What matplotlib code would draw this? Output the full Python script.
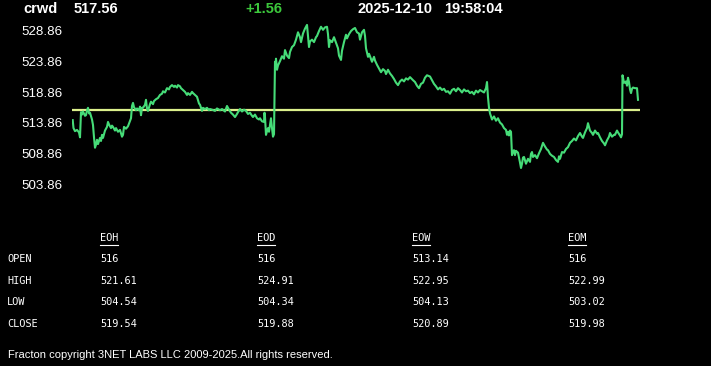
import matplotlib
matplotlib.use("Agg")
import matplotlib.pyplot as plt
from matplotlib.lines import Line2D

# header info
symbol = "crwd"
last_price = "517.56"
change = "+1.56"
date_str = "2025-12-10"
time_str = "19:58:04"
open_level = 516.0

# y axis ticks
yticks = [503.86, 508.86, 513.86, 518.86, 523.86, 528.86]

# intraday trace (t = minutes-ish position, price)
t = [0.7, 1.5, 3, 5, 7, 8, 9, 10, 11, 13, 14, 15, 16, 17, 18, 20, 21, 22, 23, 24, 25, 26, 28,
     29, 30, 31, 33, 35, 36, 37, 39, 40, 41, 43, 44, 46, 48, 50, 51, 52, 54, 56, 58, 59, 60, 61,
     62, 64, 65, 67, 68, 69, 70, 71, 73, 74, 75, 76, 78, 79, 81, 82, 84, 86, 88, 90, 91, 93, 95,
     97, 98, 100, 102, 103, 105, 106, 108, 109, 111, 113, 115, 116, 118, 120, 121, 123, 125, 127,
     128, 130, 131, 133, 135, 137, 138, 140, 143,
     145, 148, 150, 153, 155, 157, 159, 161, 163, 165, 166, 168, 170, 172, 174, 176, 178, 180, 181,
     183, 185, 187, 188, 190, 192, 192.5, 193, 194, 195, 196, 197, 198, 199, 200, 201, 202, 203,
     203.5, 204, 205, 206, 208, 210, 212, 213, 215, 217, 218,
     220, 222, 224, 226, 228, 229, 231, 233, 235, 236, 237, 238, 240, 242, 244, 245, 247, 249, 251,
     253, 255, 256, 257, 258, 260, 262, 264, 266, 267, 269, 270, 272, 274, 275, 277, 279, 281, 283,
     285, 287, 288, 290, 292, 293, 294, 296, 297, 298,
     300, 302, 303, 305, 307, 309, 311, 313, 314, 316, 318, 320, 322, 324, 326, 328, 330, 332, 334,
     336, 338, 341, 343, 345, 347, 349, 351, 353, 355, 358, 360, 362, 364, 366, 368, 370, 372, 374,
     376, 378, 380, 382, 384, 386, 388, 390, 392, 394, 396, 398, 400, 402, 404, 406, 408, 410, 412,
     414, 415, 416, 417, 418, 420, 422, 424, 426, 428, 430, 432, 434, 435, 436, 437, 438,
     439, 440, 441, 442, 443, 444, 446, 447, 448, 449, 450, 451, 452, 454, 456, 458, 459, 460, 461,
     463, 465, 467, 469, 471, 473, 475, 476, 478, 480, 482, 484, 486, 487, 488, 490, 492, 494, 496,
     498, 500, 502, 504, 506, 508, 510, 511, 513, 515, 516, 518, 520, 521, 523, 525, 526, 528, 530,
     532, 533, 535, 537, 538, 540, 542, 543, 545, 546, 548, 549, 550, 550.5, 551, 552, 553, 554, 555,
     556, 557, 558, 559, 560, 561, 563, 565, 566]
price = [514.3, 513.0, 512.5, 512.7, 512.3, 511.5, 515.6, 515.2, 515.7, 515.0, 515.1, 515.9, 516.3,
         515.4, 515.5, 514.4, 513.5, 511.5, 509.8, 510.3, 511.1, 510.4, 511.4, 510.9, 511.9, 511.4,
         512.6, 513.2, 514.0, 513.6, 513.0, 513.4, 513.2, 512.6, 513.0, 512.4, 512.7, 511.6, 511.9,
         513.2, 512.9, 513.3, 514.2, 514.6, 516.6, 517.1, 516.4, 515.9, 516.2, 515.9, 516.5, 515.1,
         516.3, 516.3, 516.8, 517.6, 516.1, 515.8, 516.9, 517.3, 516.9, 517.4, 517.7, 517.9, 518.4,
         518.6, 519.0, 518.8, 519.5, 519.3, 519.7, 520.0, 519.7, 519.9, 519.6, 520.0, 519.8, 519.5,
         519.2, 518.9, 518.4, 518.7, 518.4, 518.9, 518.7, 518.4, 518.1, 517.0, 516.8, 515.8, 516.3,
         516.1, 516.3, 515.9, 516.1, 516.0, 515.8,
         516.2, 515.9, 516.1, 515.7, 516.6, 516.0, 515.5, 515.2, 514.8, 515.3, 515.6, 516.1, 515.7,
         516.0, 515.8, 515.3, 515.5, 515.0, 514.8, 515.2, 514.6, 514.4, 514.6, 514.1, 514.0, 515.5,
         514.8, 511.9, 512.5, 513.0, 512.4, 513.5, 514.6, 513.0, 511.6, 512.0, 523.8, 523.1, 524.3,
         522.5, 523.2, 523.9, 524.7, 524.3, 525.7, 524.8, 524.4,
         525.4, 526.2, 526.5, 527.4, 528.6, 527.8, 527.0, 528.4, 529.2, 529.8, 528.0, 526.2, 527.1,
         527.4, 527.0, 527.8, 528.0, 528.8, 529.5, 529.0, 529.4, 529.5, 528.3, 526.2, 527.3, 527.0,
         527.8, 526.9, 526.0, 524.8, 524.1, 525.6, 527.0, 528.2, 527.6, 528.3, 528.8, 529.1, 529.3,
         528.6, 528.4, 527.4, 528.6, 529.0, 528.0, 526.0, 524.6, 525.1,
         524.7, 523.8, 524.6, 524.0, 523.3, 522.7, 522.1, 522.6, 522.3, 521.8, 522.5, 521.9, 521.5,
         521.0, 520.4, 520.0, 520.6, 520.9, 520.6, 521.1, 520.9, 521.3, 520.8, 520.5, 519.9, 519.5,
         520.2, 520.4, 521.2, 521.6, 521.4, 520.8, 520.2, 519.8, 519.3, 519.6, 519.2, 519.4, 518.9,
         519.0, 518.6, 519.2, 519.4, 519.0, 519.5, 519.2, 518.8, 519.3, 519.0, 519.1, 518.7, 518.9,
         518.5, 519.1, 518.8, 519.2, 519.0, 518.8, 519.5, 520.5, 518.0, 516.3, 515.4, 514.4, 514.9,
         514.2, 514.6, 513.9, 513.6, 513.0, 512.7, 511.9, 512.4, 511.8,
         512.6, 512.4, 508.6, 509.2, 509.4, 508.6, 509.3, 509.0, 508.2, 507.4, 506.5, 507.2, 508.2,
         508.3, 507.2, 508.0, 507.5, 508.8, 509.1, 508.3, 508.6, 508.1, 508.9, 509.6, 510.6, 510.0,
         509.5, 509.4, 508.8, 508.5, 508.3, 507.8, 507.5, 508.4, 508.0, 509.1, 509.0, 509.6, 509.9,
         510.6, 510.9, 511.3, 511.0, 511.7, 512.2, 511.6, 511.4, 512.3, 513.0, 513.8, 512.6, 512.2,
         511.9, 512.6, 512.1, 512.2, 511.5, 510.9, 510.5, 510.2, 511.0, 511.6, 512.2, 511.6, 511.9,
         511.9, 512.6, 512.3, 511.8, 511.5, 512.0, 521.6, 521.2, 520.4, 520.4, 520.6, 519.9, 521.2,
         520.5, 519.3, 518.7, 519.4, 519.6, 519.5, 519.5, 517.6]

# period summary table
periods = ["EOH", "EOD", "EOW", "EOM"]
row_names = ["OPEN", "HIGH", "LOW", "CLOSE"]
opens = ["516", "516", "513.14", "516"]
highs = ["521.61", "524.91", "522.95", "522.99"]
lows = ["504.54", "504.34", "504.13", "503.02"]
closes = ["519.54", "519.88", "520.89", "519.98"]

footer = "Fracton copyright 3NET LABS LLC 2009-2025.All rights reserved."

W, H = 711, 366


def fx(x):
    return x / W


def fy(y):
    return 1 - y / H


fig = plt.figure(figsize=(W / 100, H / 100), dpi=100, facecolor="black")

ax = fig.add_axes([fx(72), fy(190), fx(640) - fx(72), fy(20) - fy(190)])
ax.set_facecolor("black")
ax.plot(t, price, color="#46dc78", lw=1.5, zorder=3)
ax.axhline(open_level, color="#dcf08c", lw=1.6, zorder=2)
ax.set_xlim(0, 568)
ax.set_ylim(502.92, 530.60)
ax.set_yticks(yticks)
ax.set_yticklabels(["%.2f" % v for v in yticks])
ax.set_xticks([])
ax.tick_params(axis="y", length=0, pad=7, labelcolor="white", labelsize=9.6)
for lab in ax.get_yticklabels():
    lab.set_fontfamily("Liberation Sans")
for s in ax.spines.values():
    s.set_visible(False)

# header
hdr = dict(color="white", fontsize=10.5, fontweight="bold", family="Liberation Sans", va="center")
fig.text(fx(23), fy(9), symbol, **hdr)
fig.text(fx(74), fy(9), last_price, **hdr)
fig.text(fx(245), fy(9), change, **{**hdr, "color": "#3cc83c"})
fig.text(fx(357), fy(9), date_str, **hdr)
fig.text(fx(444), fy(9), time_str, **hdr)

# table
col_x = [100, 257, 412, 568]
row_y = [259, 281, 302, 324]
mono = dict(color="white", fontsize=7.4, family="DejaVu Sans Mono", va="center")
renderer = fig.canvas.get_renderer()
for cx, name in zip(col_x, periods):
    txt = fig.text(fx(cx), fy(238), name, **mono)
    bb = txt.get_window_extent(renderer)
    fig.add_artist(Line2D([fx(cx), fx(cx) + bb.width / W], [fy(245), fy(245)],
                          transform=fig.transFigure, color="white", lw=0.8))
rows = [opens, highs, lows, closes]
for ry, name, vals in zip(row_y, row_names, rows):
    fig.text(fx(7), fy(ry), name, **mono)
    for cx, v in zip(col_x, vals):
        fig.text(fx(cx), fy(ry), v, **mono)

fig.text(fx(8), fy(355), footer, color="white", fontsize=8,
         family="Liberation Sans", va="center")

fig.savefig("out.png", dpi=100, facecolor="black")
